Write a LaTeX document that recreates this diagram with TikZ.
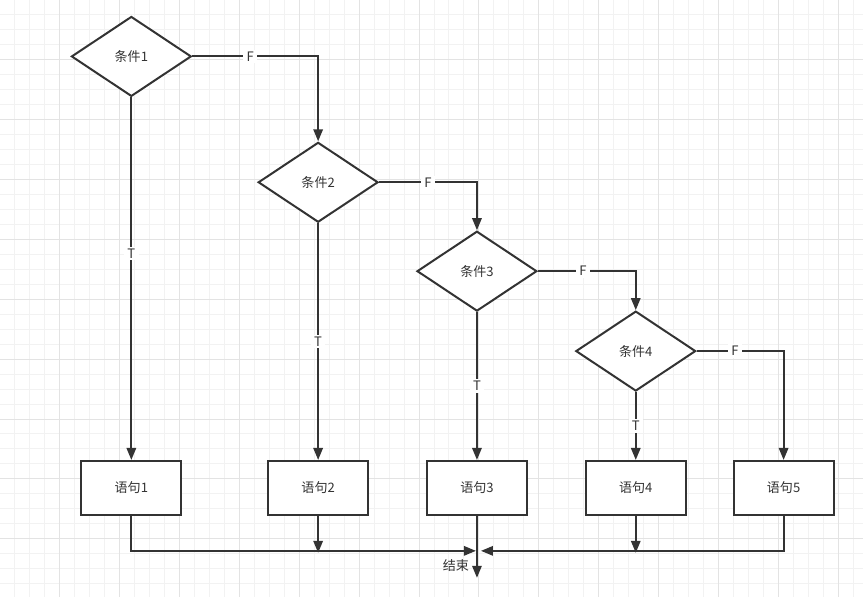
\documentclass[tikz,border=0pt]{standalone}
\usepackage{fontspec}
\newfontfamily\cjk{Noto Sans CJK SC}
\usetikzlibrary{shapes.geometric, arrows.meta, positioning}
\definecolor{inkgray}{HTML}{333333}
\definecolor{gridminor}{HTML}{F2F2F2}
\definecolor{gridmajor}{HTML}{E3E3E3}

\begin{document}
\begin{tikzpicture}[x=0.75pt, y=-0.75pt,
    every node/.style={font=\fontsize{9.8}{12}\cjk, text=inkgray},
    cond/.style={diamond, draw=inkgray, line width=1.5pt, fill=white,
      minimum width=90pt, minimum height=60pt, inner sep=0pt},
    stmt/.style={rectangle, draw=inkgray, line width=1.5pt, fill=white,
      minimum width=75pt, minimum height=40.5pt, inner sep=0pt},
    link/.style={draw=inkgray, line width=1.5pt},
    flow/.style={link, -{Triangle[length=9pt, width=7pt]}},
    tf/.style={fill=white, inner xsep=2.5pt, inner ysep=1.5pt}]

    % background grid
    \fill[white] (0,0) rectangle (863,597);
    \foreach \gx in {14,29,...,862}
      \draw[gridminor, line width=0.75pt] (\gx,0) -- (\gx,597);
    \foreach \gy in {14,29,...,596}
      \draw[gridminor, line width=0.75pt] (0,\gy) -- (863,\gy);
    \foreach \gx in {59,119,...,839}
      \draw[gridmajor, line width=0.75pt] (\gx,0) -- (\gx,597);
    \foreach \gy in {59,119,...,596}
      \draw[gridmajor, line width=0.75pt] (0,\gy) -- (863,\gy);
    \useasboundingbox (0,0) rectangle (863,597);

    % conditions
    \node[cond] (cond1) at (131,56)  {条件1};
    \node[cond] (cond2) at (318,182) {条件2};
    \node[cond] (cond3) at (477,271) {条件3};
    \node[cond] (cond4) at (636,351) {条件4};

    % statements
    \node[stmt] (stmt1) at (131,488) {语句1};
    \node[stmt] (stmt2) at (318,488) {语句2};
    \node[stmt] (stmt3) at (477,488) {语句3};
    \node[stmt] (stmt4) at (636,488) {语句4};
    \node[stmt] (stmt5) at (784,488) {语句5};

    % join points
    \coordinate (joinL) at (476,551);
    \coordinate (joinR) at (481,551);
    \coordinate (drop2) at (318,553);
    \coordinate (drop4) at (636,553);
    \coordinate (finish) at (477,578);
    \node (endlbl) at (456,566) {结束};

    % branches
    \draw[flow] (cond1.east) -| node[tf, pos=0.23] {F} (cond2.north);
    \draw[flow] (cond2.east) -| node[tf, pos=0.25] {F} (cond3.north);
    \draw[flow] (cond3.east) -| node[tf, pos=0.23] {F} (cond4.north);
    \draw[flow] (cond4.east) -| node[tf, pos=0.22] {F} (stmt5.north);
    \draw[flow] (cond1.south) -- node[tf, pos=0.43] {T} (stmt1.north);
    \draw[flow] (cond2.south) -- node[tf] {T} (stmt2.north);
    \draw[flow] (cond3.south) -- node[tf] {T} (stmt3.north);
    \draw[flow] (cond4.south) -- node[tf] {T} (stmt4.north);

    % merge to end
    \draw[flow] (stmt1.south) |- (joinL);
    \draw[flow] (stmt5.south) |- (joinR);
    \draw[flow] (stmt2.south) -- (drop2);
    \draw[flow] (stmt4.south) -- (drop4);
    \draw[flow] (stmt3.south) -- (finish);
\end{tikzpicture}
\end{document}
